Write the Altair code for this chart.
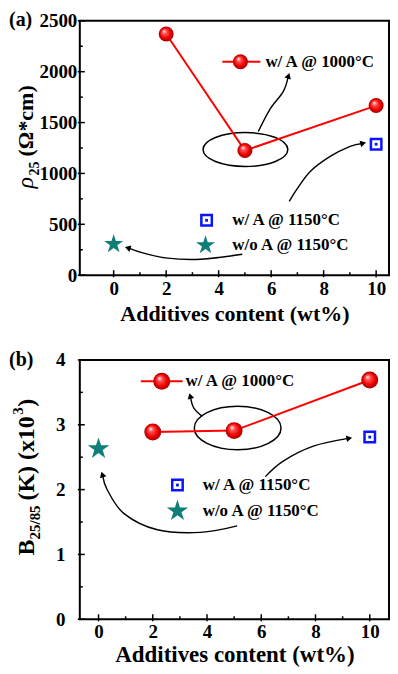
import altair as alt
import pandas as pd

FONT = "Liberation Serif"
RED = "#ff0000"
BLUE = "#0a14ff"
TEAL = "#0f7d78"

# ---------------- shared x axis ----------------
x_major = [0, 2, 4, 6, 8, 10]
x_minor = [1, 3, 5, 7, 9]
x_title = "Additives content (wt%)"

# ---------------- panel (a): resistivity rho25 ----------------
a_x_domain = [-1.29, 10.49]
a_red_x = [2, 5, 10]
a_red_y = [2370, 1225, 1667]
a_sq_x = [10]
a_sq_y = [1287]
a_star_x = [0]
a_star_y = [305]
a_y_domain = [0, 2500]
a_y_major = [0, 500, 1000, 1500, 2000, 2500]
a_y_minor = [250, 750, 1250, 1750, 2250]
a_key_line_x = [4.14, 5.59]
a_key_line_y = [2098, 2098]
a_key_sphere = [4.83, 2098]
a_key_sq = [3.54, 539]
a_key_star = [3.5, 294]
a_key_text_x = [5.78, 4.52, 4.52]
a_key_text_y = [2098, 539, 294]
key_texts = ["w/ A @ 1000°C", "w/ A @ 1150°C", "w/o A @ 1150°C"]
a_ell = [5.02, 1235]
a_arrow_x = [[5.51, 5.97, 6.46, 6.65],
             [6.69, 7.0, 7.49, 8.25, 9.01, 9.47],
             [4.9, 3.31, 2.05, 1.14, 0.57]]
a_arrow_y = [[1412, 1637, 1804, 1951],
             [725, 853, 1020, 1167, 1265, 1294],
             [206, 157, 167, 216, 265]]
a_head_angle = [18, 76, 288]

# ---------------- panel (b): B constant ----------------
b_x_domain = [-0.69, 10.71]
b_red_x = [2, 5, 10]
b_red_y = [2.89, 2.91, 3.69]
b_sq_x = [10]
b_sq_y = [2.81]
b_star_x = [0]
b_star_y = [2.63]
b_y_domain = [0, 4]
b_y_major = [0, 1, 2, 3, 4]
b_y_minor = [0.5, 1.5, 2.5, 3.5]
b_key_line_x = [1.56, 3.1]
b_key_line_y = [3.67, 3.67]
b_key_sphere = [2.33, 3.67]
b_key_sq = [2.91, 2.07]
b_key_star = [2.91, 1.67]
b_key_text_x = [3.21, 3.84, 3.84]
b_key_text_y = [3.67, 2.07, 1.67]
b_ell = [5.13, 2.95]
b_arrow_x = [[3.82, 3.51, 3.39],
             [6.15, 6.81, 7.92, 9.21],
             [5.11, 3.76, 2.17, 0.94, 0.33, 0.15]]
b_arrow_y = [[3.13, 3.26, 3.43],
             [2.20, 2.44, 2.67, 2.79],
             [1.44, 1.34, 1.38, 1.63, 1.99, 2.22]]
b_head_angle = [346, 79, 342]

# ---------------- glyph shapes ----------------
STAR = ("M0,-1 L0.2245,-0.309 L0.951,-0.309 L0.3633,0.118 L0.588,0.809 "
        "L0,0.382 L-0.588,0.809 L-0.3633,0.118 L-0.951,-0.309 L-0.2245,-0.309 Z")


def ellipse_path(r):
    k = 0.5523
    return (f"M-1,0 C-1,{-r*k:.4f} {-k},{-r} 0,{-r} C{k},{-r} 1,{-r*k:.4f} 1,0 "
            f"C1,{r*k:.4f} {k},{r} 0,{r} C{-k},{r} -1,{r*k:.4f} -1,0 Z")


SPHERE = alt.RadialGradient(
    gradient="radial",
    stops=[alt.GradientStop(color="#ffffff", offset=0),
           alt.GradientStop(color="#ff5050", offset=0.3),
           alt.GradientStop(color="#f00000", offset=0.7),
           alt.GradientStop(color="#a00000", offset=1)],
    x1=0.35, y1=0.3, r1=0, x2=0.5, y2=0.5, r2=0.5)


def piece(s, px, py, size, weight="bold", style="normal"):
    return alt.Chart(pd.DataFrame({"t": [s]})).mark_text(
        align="left", baseline="alphabetic", angle=270, font=FONT,
        fontSize=size, fontWeight=weight, fontStyle=style, color="black"
    ).encode(text="t:N", x=alt.value(px), y=alt.value(py))


def panel(p):
    W, H = p["W"], p["H"]
    X = alt.X("x:Q", scale=alt.Scale(domain=p["xdom"], nice=False, zero=False),
              axis=alt.Axis(values=x_major, title=x_title, ticks=False, domain=False,
                            grid=False, labelFont=FONT, labelFontWeight="bold",
                            labelFontSize=19, labelColor="black", labelPadding=p["xlp"],
                            titleFont=FONT, titleFontWeight="bold",
                            titleFontSize=p["xts"], titleColor="black",
                            titlePadding=p["xtp"], format="d"))
    Y = alt.Y("y:Q", scale=alt.Scale(domain=p["ydom"], nice=False, zero=False),
              axis=alt.Axis(values=p["ymaj"], title=None, ticks=False, domain=False,
                            grid=False, labelFont=FONT, labelFontWeight="bold",
                            labelFontSize=19, labelColor="black", labelPadding=p["ylp"],
                            format="d"))
    layers = []
    # inward ticks
    layers.append(alt.Chart(pd.DataFrame({"x": x_major})).mark_rule(color="black", strokeWidth=1.5)
                  .encode(x=X, y=alt.value(H + 2), y2=alt.value(H - 5)))
    layers.append(alt.Chart(pd.DataFrame({"x": x_minor})).mark_rule(color="black", strokeWidth=1.5)
                  .encode(x=X, y=alt.value(H), y2=alt.value(H - 3)))
    layers.append(alt.Chart(pd.DataFrame({"y": p["ymaj"]})).mark_rule(color="black", strokeWidth=1.5)
                  .encode(y=Y, x=alt.value(-2), x2=alt.value(5)))
    layers.append(alt.Chart(pd.DataFrame({"y": p["ymin"]})).mark_rule(color="black", strokeWidth=1.5)
                  .encode(y=Y, x=alt.value(0), x2=alt.value(3)))
    # curved arrows
    rows = []
    for k, (xs, ys) in enumerate(zip(p["arx"], p["ary"])):
        for i, (xv, yv) in enumerate(zip(xs, ys)):
            rows.append({"id": k, "i": i, "x": xv, "y": yv})
    layers.append(alt.Chart(pd.DataFrame(rows)).mark_line(color="black", strokeWidth=1.4,
                                                          interpolate="cardinal")
                  .encode(x=X, y=Y, detail="id:N", order="i:Q"))
    heads = pd.DataFrame({"x": [xs[-1] for xs in p["arx"]], "y": [ys[-1] for ys in p["ary"]],
                          "ang": p["ang"]})
    layers.append(alt.Chart(heads).mark_point(shape="triangle", filled=True, color="black",
                                              size=45, opacity=1)
                  .encode(x=X, y=Y, angle=alt.Angle("ang:Q", scale=None)))
    # ellipse
    layers.append(alt.Chart(pd.DataFrame({"x": [p["ell"][0]], "y": [p["ell"][1]]}))
                  .mark_point(shape=ellipse_path(p["ellr"]), size=p["ells"], filled=False,
                              stroke="black", strokeWidth=1.5, opacity=1)
                  .encode(x=X, y=Y))
    # key line
    layers.append(alt.Chart(pd.DataFrame({"x": p["klx"], "y": p["kly"]}))
                  .mark_line(color=RED, strokeWidth=2).encode(x=X, y=Y))
    # red series
    layers.append(alt.Chart(pd.DataFrame({"x": p["rx"], "y": p["ry"]}))
                  .mark_line(color=RED, strokeWidth=2).encode(x=X, y=Y))
    sph = pd.DataFrame({"x": p["rx"] + [p["ks"][0]], "y": p["ry"] + [p["ks"][1]]})
    layers.append(alt.Chart(sph).mark_point(shape="circle", filled=True, fill=SPHERE,
                                            size=p["sphs"], strokeWidth=0, opacity=1)
                  .encode(x=X, y=Y))
    # blue open squares with centre dot
    sq = pd.DataFrame({"x": p["sqx"] + [p["ksq"][0]], "y": p["sqy"] + [p["ksq"][1]]})
    layers.append(alt.Chart(sq).mark_point(shape="square", filled=False, color=BLUE,
                                           strokeWidth=2.5, size=110, opacity=1)
                  .encode(x=X, y=Y))
    layers.append(alt.Chart(sq).mark_point(shape="square", filled=True, color=BLUE,
                                           size=8, opacity=1)
                  .encode(x=X, y=Y))
    # stars
    st = pd.DataFrame({"x": p["stx"] + [p["kst"][0]], "y": p["sty"] + [p["kst"][1]],
                       "s": [p["stars"], p["kstars"]]})
    layers.append(alt.Chart(st).mark_point(shape=STAR, filled=True, color=TEAL, opacity=1,
                                           strokeWidth=0)
                  .encode(x=X, y=Y, size=alt.Size("s:Q", scale=None)))
    # key texts
    kt = pd.DataFrame({"x": p["ktx"], "y": p["kty"], "t": key_texts})
    layers.append(alt.Chart(kt).mark_text(align="left", baseline="middle", font=FONT,
                                          fontWeight="bold", fontSize=17, color="black")
                  .encode(x=X, y=Y, text="t:N"))
    # panel label
    layers.append(alt.Chart(pd.DataFrame({"t": [p["lab"]]})).mark_text(
        align="left", baseline="middle", font=FONT, fontWeight="bold", fontSize=20,
        color="black").encode(text="t:N", x=alt.value(p["labx"]), y=alt.value(p["laby"])))
    layers += p["ytitle"]
    return alt.layer(*layers).properties(width=W, height=H)


pa = dict(W=310, H=255, xdom=a_x_domain, ydom=a_y_domain, ymaj=a_y_major, ymin=a_y_minor,
          xlp=4, xtp=5, xts=22, ylp=3,
          arx=a_arrow_x, ary=a_arrow_y, ang=a_head_angle,
          ell=a_ell, ellr=0.4, ells=7225,
          klx=a_key_line_x, kly=a_key_line_y, ks=a_key_sphere,
          rx=a_red_x, ry=a_red_y, sphs=225,
          sqx=a_sq_x, sqy=a_sq_y, ksq=a_key_sq,
          stx=a_star_x, sty=a_star_y, kst=a_key_star, stars=400, kstars=400,
          ktx=a_key_text_x, kty=a_key_text_y,
          lab="(a)", labx=-71, laby=-1,
          ytitle=[piece("ρ", -47, 168, 24, weight="normal", style="italic"),
                  piece("25", -41, 155, 14),
                  piece("(Ω*cm)", -47, 136, 22)])

pb = dict(W=310, H=260, xdom=b_x_domain, ydom=b_y_domain, ymaj=b_y_major, ymin=b_y_minor,
          xlp=3, xtp=2, xts=23, ylp=15,
          arx=b_arrow_x, ary=b_arrow_y, ang=b_head_angle,
          ell=b_ell, ellr=0.5, ells=7569,
          klx=b_key_line_x, kly=b_key_line_y, ks=b_key_sphere,
          rx=b_red_x, ry=b_red_y, sphs=289,
          sqx=b_sq_x, sqy=b_sq_y, ksq=b_key_sq,
          stx=b_star_x, sty=b_star_y, kst=b_key_star, stars=520, kstars=500,
          ktx=b_key_text_x, kty=b_key_text_y,
          lab="(b)", labx=-71, laby=0,
          ytitle=[piece("B", -46, 196, 24),
                  piece("25/85", -40, 180, 15),
                  piece("(K) (x10", -46, 141, 24),
                  piece("3", -57, 55, 15),
                  piece(")", -46, 47, 24)])

chart = alt.vconcat(panel(pa), panel(pb), spacing=24).resolve_scale(
    x="independent", y="independent"
).configure_view(stroke="black", strokeWidth=2).properties(
    padding={"left": 0, "top": 0, "right": 0, "bottom": 0},
    background="white")

chart.save("out.html", embed_options={"renderer": "svg", "actions": False})
